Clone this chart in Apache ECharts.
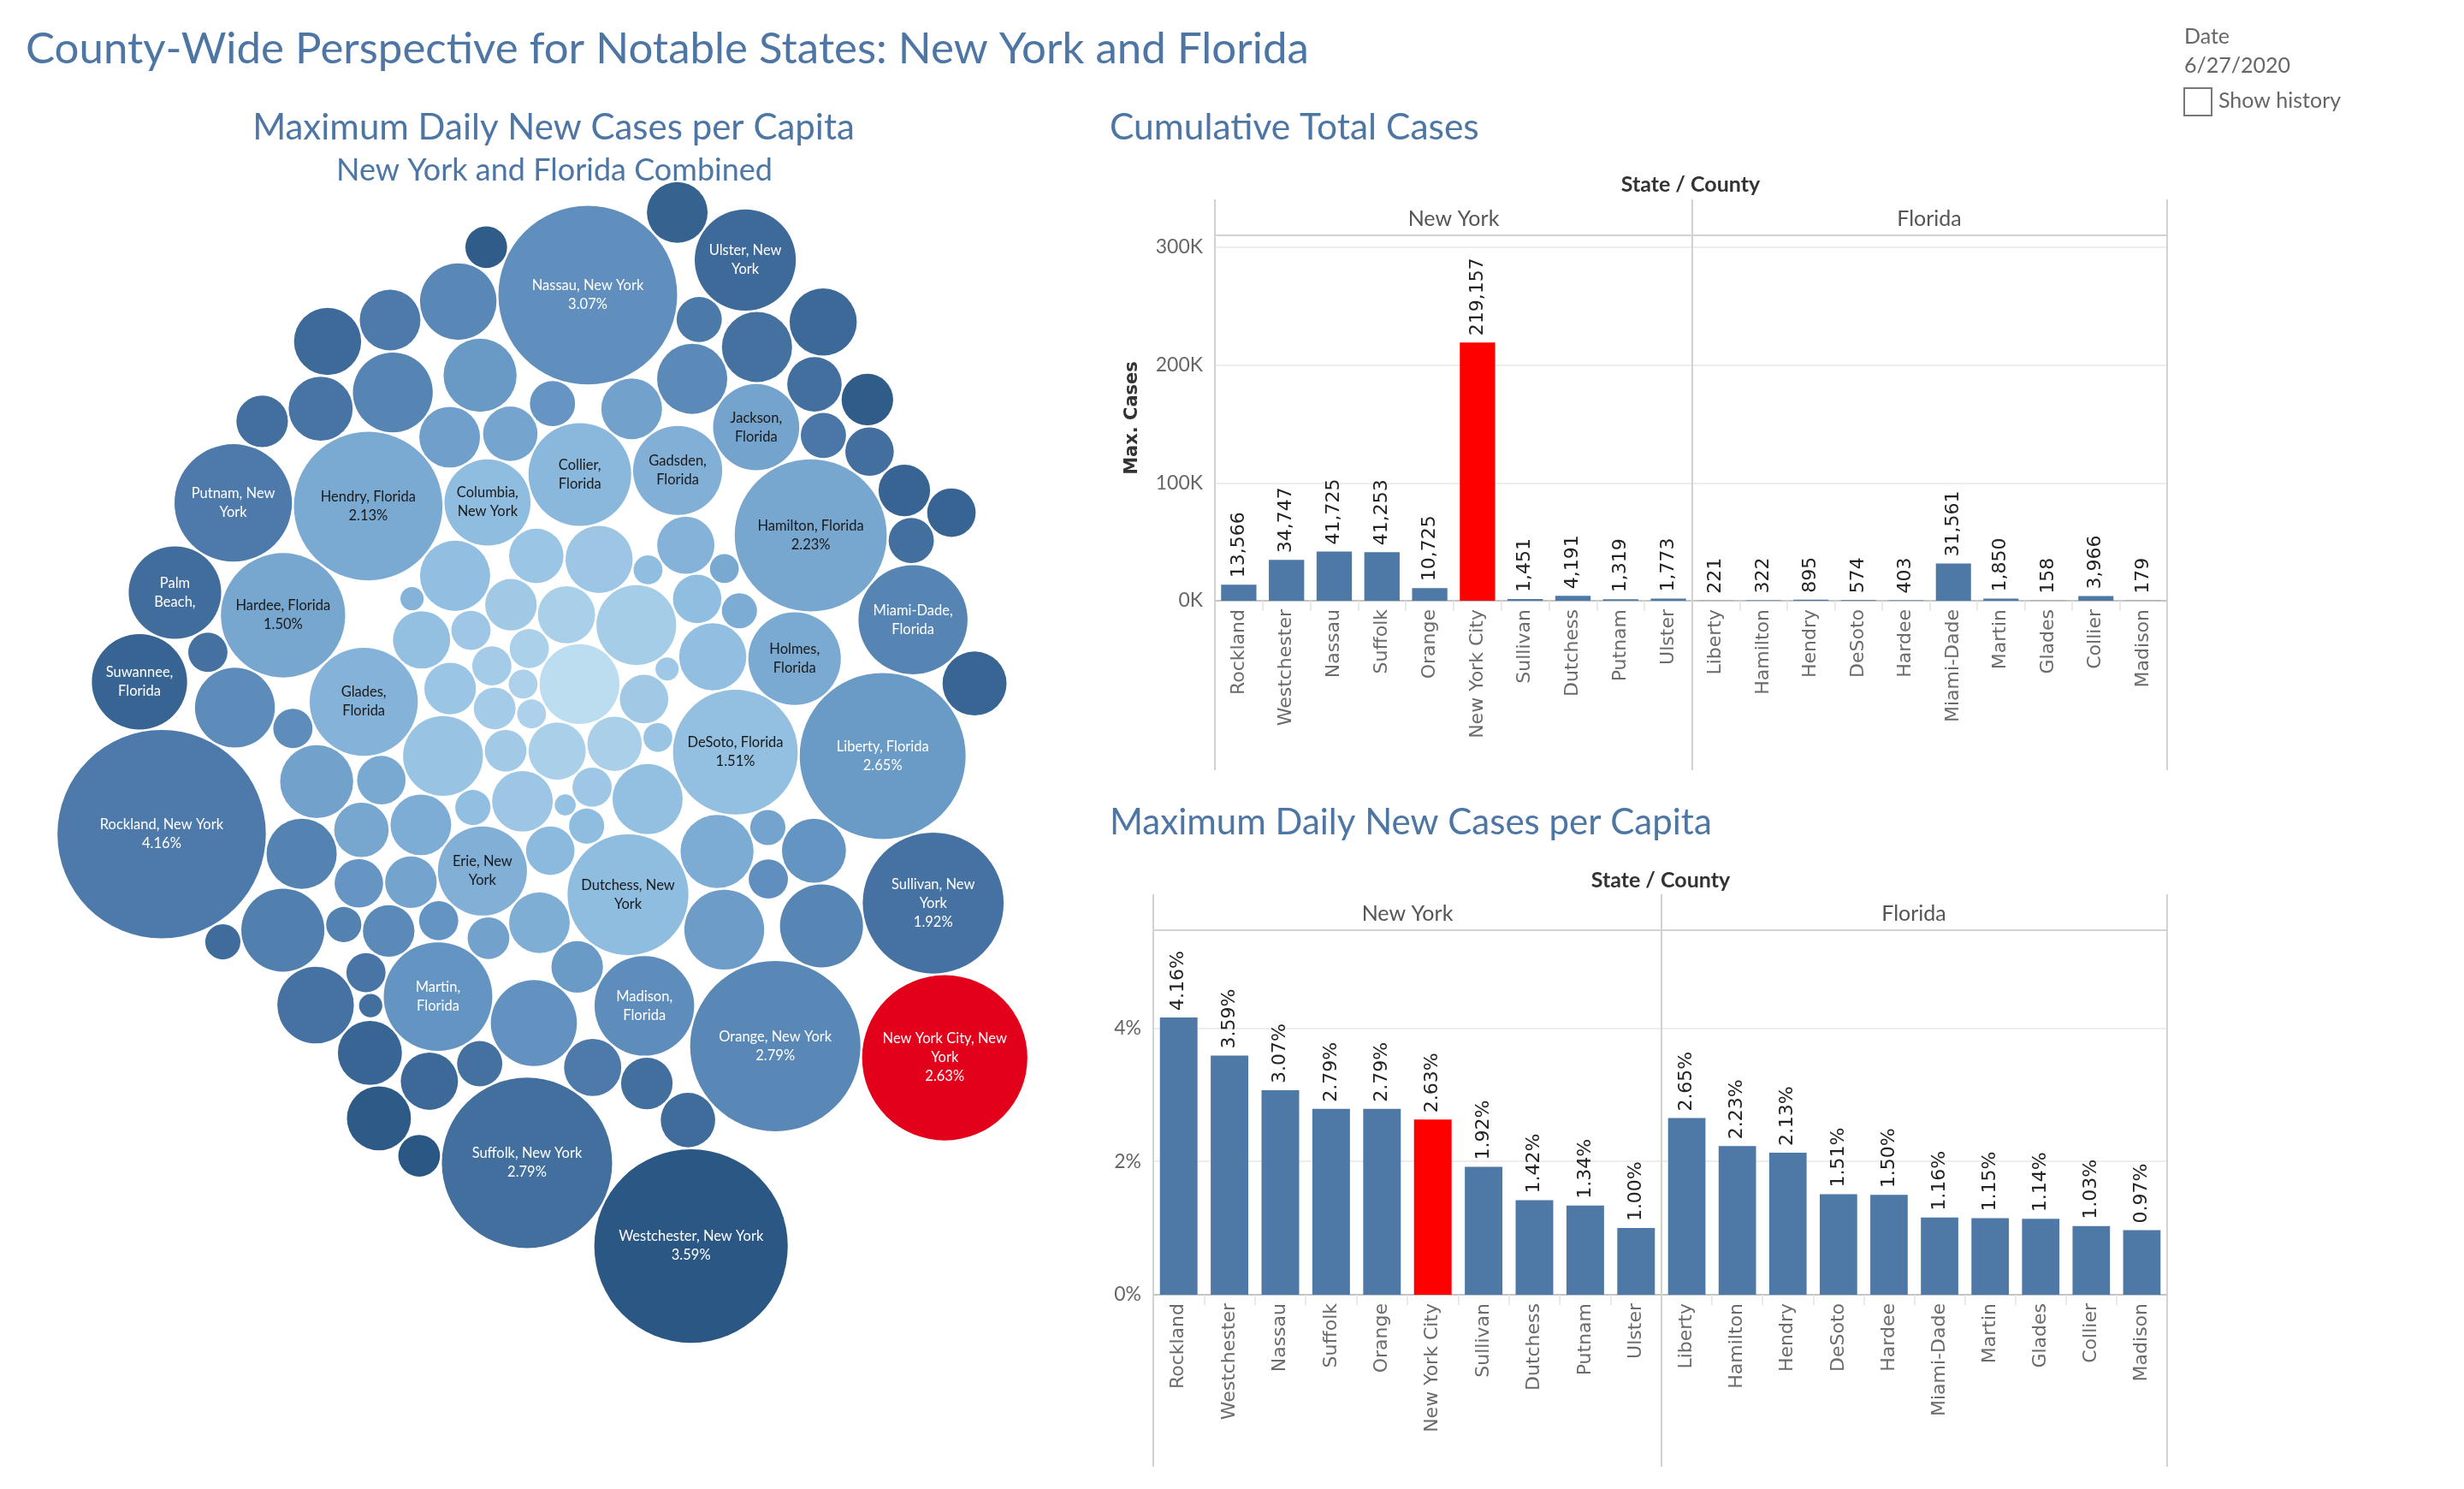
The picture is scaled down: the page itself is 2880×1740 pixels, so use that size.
<!DOCTYPE html>
<html><head><meta charset="utf-8">
<script src="https://cdn.jsdelivr.net/npm/echarts@6/dist/echarts.min.js"></script>
<style>html,body{margin:0;padding:0;background:#fff}#c{width:2880px;height:1740px}</style>
</head><body><div id="c"></div>
<script>
// ---------------- DATA ----------------
const nyCounties = ['Rockland','Westchester','Nassau','Suffolk','Orange','New York City','Sullivan','Dutchess','Putnam','Ulster'];
const flCounties = ['Liberty','Hamilton','Hendry','DeSoto','Hardee','Miami-Dade','Martin','Glades','Collier','Madison'];
const nyMaxCases = [13566,34747,41725,41253,10725,219157,1451,4191,1319,1773];
const flMaxCases = [221,322,895,574,403,31561,1850,158,3966,179];
const nyMaxPerCapita = [4.16,3.59,3.07,2.79,2.79,2.63,1.92,1.42,1.34,1.00];
const flMaxPerCapita = [2.65,2.23,2.13,1.51,1.50,1.16,1.15,1.14,1.03,0.97];
const casesTickLabels = ['0K','100K','200K','300K'];
const pctTickLabels = ['0%','2%','4%'];

// bubble chart (one entry per county bubble, 10 per row):
// label text ('' = unlabeled bubble)
const bubbleLabels = [
 '', 'Ulster, New\nYork', '', '', '', '', 'Putnam, New\nYork', 'Orange, New York', '', '',
 '', '', 'Suwannee,\nFlorida', '', '', '', '', '', 'Jackson,\nFlorida', 'Hardee, Florida',
 '', '', '', '', 'Nassau, New York', '', '', '', '', 'Gadsden,\nFlorida',
 '', '', '', 'Columbia,\nNew York', '', '', '', '', '', '',
 '', '', '', '', '', '', '', '', '', 'Martin,\nFlorida',
 '', '', '', 'DeSoto, Florida', '', '', '', '', '', '',
 '', '', '', '', '', '', '', '', '', '',
 '', '', 'Hamilton, Florida', 'Collier,\nFlorida', '', '', '', '', '', '',
 '', '', '', '', 'Erie, New\nYork', '', '', 'Holmes,\nFlorida', 'Madison,\nFlorida', 'Miami-Dade,\nFlorida',
 '', '', '', '', '', 'Palm\nBeach,', '', '', '', 'Rockland, New York',
 'Hendry, Florida', '', '', '', '', '', 'Glades,\nFlorida', 'Sullivan, New\nYork', 'Dutchess, New\nYork', '',
 '', '', '', 'Suffolk, New York', '', '', '', '', 'Liberty, Florida', 'Westchester, New York',
 '', '', 'New York City, New\nYork', ''
];
// maximum daily new cases per capita (%)
const bubbleValues = [
 0.37,1.00,0.49,0.27,0.16,0.18,1.34,2.79,0.06,0.63,
 0.58,0.68,0.89,0.37,0.21,0.63,0.16,0.24,0.73,1.50,
 0.21,0.49,0.30,0.41,3.07,0.30,0.27,0.33,0.13,0.78,
 0.41,0.16,0.16,0.73,0.53,0.24,0.05,0.06,0.37,0.49,
 0.63,0.41,0.21,0.27,0.16,0.27,0.13,0.33,0.45,1.15,
 0.33,0.41,0.49,1.51,0.24,0.33,0.16,0.18,0.45,0.24,
 0.21,0.30,0.33,0.63,0.30,0.06,0.45,0.53,0.41,0.27,
 0.27,0.58,2.23,1.03,0.16,0.18,0.09,0.09,0.63,0.13,
 0.63,0.13,0.37,0.49,0.78,0.18,0.37,0.84,0.97,1.16,
 0.21,0.45,0.13,0.27,0.30,0.84,0.13,0.30,0.24,4.16,
 2.13,0.09,0.37,0.16,0.16,0.53,1.14,1.92,1.42,0.27,
 0.27,0.24,0.73,2.79,0.09,0.37,0.68,0.33,2.65,3.59,
 0.24,0.18,2.63,0.09
];
// colour measure (0 = lightest ... 100 = darkest)
const bubbleColorMeasure = [
 93,88,84,85,81,97,78,70,85,72,
 70,71,92,78,61,57,62,61,52,50,
 84,73,51,91,65,50,52,78,52,44,
 98,65,84,35,53,34,30,42,46,32,
 67,91,80,26,24,22,33,42,88,62,
 32,82,68,32,21,15,13,20,25,37,
 85,26,14,0,15,23,33,47,62,85,
 92,83,50,38,24,19,12,27,17,35,
 28,47,45,33,44,53,55,48,66,72,
 79,89,87,97,85,86,74,87,85,78,
 48,12,25,19,66,59,42,83,35,58,
 68,49,63,85,49,53,75,89,58,100,
 92,100,94,34
];

// ---------------- LAYOUT HELPERS ----------------
function packCircles(circles, ax) {
  function place(b, a, c) {
    var dx = b.x - a.x, dy = b.y - a.y, d2 = dx*dx + dy*dy, x, y, a2, b2;
    if (d2) {
      a2 = a.r + c.r; a2 *= a2; b2 = b.r + c.r; b2 *= b2;
      if (a2 > b2) {
        x = (d2 + b2 - a2) / (2*d2); y = Math.sqrt(Math.max(0, b2/d2 - x*x));
        c.x = b.x - x*dx - y*dy; c.y = b.y - x*dy + y*dx;
      } else {
        x = (d2 + a2 - b2) / (2*d2); y = Math.sqrt(Math.max(0, a2/d2 - x*x));
        c.x = a.x + x*dx - y*dy; c.y = a.y + x*dy + y*dx;
      }
    } else { c.x = a.x + c.r; c.y = a.y; }
  }
  function intersects(a, b) {
    var dr = a.r + b.r - 1e-6, dx = b.x - a.x, dy = b.y - a.y;
    return dr > 0 && dr*dr > dx*dx + dy*dy;
  }
  function score(node) {
    var a = node._, b = node.next._, ab = a.r + b.r,
        dx = (a.x*b.r + b.x*a.r)/ab, dy = (a.y*b.r + b.y*a.r)/ab;
    return dx*dx*ax*ax + dy*dy;
  }
  function Node(c) { this._ = c; this.next = null; this.previous = null; }
  var n = circles.length, a, b, c, aa, ca, i, j, k, sj, sk;
  if (!n) return;
  a = circles[0]; a.x = 0; a.y = 0; if (n < 2) return;
  b = circles[1]; a.x = -b.r; b.x = a.r; b.y = 0; if (n < 3) return;
  place(b, a, c = circles[2]);
  a = new Node(a); b = new Node(b); c = new Node(c);
  a.next = c.previous = b; b.next = a.previous = c; c.next = b.previous = a;
  pack: for (i = 3; i < n; ++i) {
    place(a._, b._, c = circles[i]); c = new Node(c);
    j = b.next; k = a.previous; sj = b._.r; sk = a._.r;
    do {
      if (sj <= sk) {
        if (intersects(j._, c._)) { b = j; a.next = b; b.previous = a; --i; continue pack; }
        sj += j._.r; j = j.next;
      } else {
        if (intersects(k._, c._)) { a = k; a.next = b; b.previous = a; --i; continue pack; }
        sk += k._.r; k = k.previous;
      }
    } while (j !== k.next);
    c.previous = a; c.next = b; a.next = b.previous = b = c;
    aa = score(a);
    while ((c = c.next) !== b) { if ((ca = score(c)) < aa) { a = c; aa = ca; } }
    b = a.next;
  }
}

const RADIUS_K = 60.3;          // px per sqrt(%)
const BUBBLE_CENTER = [634, 891];
const circles = bubbleValues.map((v, i) => ({ i, r: RADIUS_K * Math.sqrt(v), m: bubbleColorMeasure[i] }));
const ordered = circles.slice().sort((p, q) => p.m - q.m || p.i - q.i);
packCircles(ordered, 1.12);
circles.forEach(c => { c.x = -c.x; });   // mirror the layout horizontally
let minX = Infinity, maxX = -Infinity, minY = Infinity, maxY = -Infinity;
circles.forEach(c => { minX = Math.min(minX, c.x - c.r); maxX = Math.max(maxX, c.x + c.r); minY = Math.min(minY, c.y - c.r); maxY = Math.max(maxY, c.y + c.r); });
const offX = BUBBLE_CENTER[0] - (minX + maxX) / 2, offY = BUBBLE_CENTER[1] - (minY + maxY) / 2;
const bubbleData = circles.map(c => [c.x + offX, c.y + offY, c.r, c.i]);

// Tableau-like blue sequential palette
const stops = [[0,[188,220,239]],[0.35,[143,189,224]],[0.6,[103,151,196]],[0.8,[74,119,167]],[1,[43,87,132]]];
function blue(t) {
  t = Math.max(0, Math.min(1, t));
  for (let s = 1; s < stops.length; s++) {
    if (t <= stops[s][0]) {
      const f = (t - stops[s-1][0]) / (stops[s][0] - stops[s-1][0]);
      const c = stops[s-1][1].map((v, k) => Math.round(v + (stops[s][1][k] - v) * f));
      return 'rgb(' + c.join(',') + ')';
    }
  }
  return 'rgb(43,87,132)';
}

// ---------------- CHART ----------------
const chart = echarts.init(document.getElementById('c'), null, { renderer: 'canvas' });
const BAR = '#4e79a7', HIGHLIGHT = '#ff0000';
const G = [];
function txt(x, y, text, size, fill, opts) {
  opts = opts || {};
  G.push({ type: 'text', x, y, silent: true, z: 10, style: {
    text, fill, fontSize: size, fontFamily: opts.family || 'Lato', fontWeight: opts.weight || 'normal',
    align: opts.align || 'left', verticalAlign: 'middle', textAlign: opts.align || 'left', textVerticalAlign: 'middle' } });
}
function line(x1, y1, x2, y2, color, w) {
  G.push({ type: 'line', silent: true, z: 1, shape: { x1, y1, x2, y2 }, style: { stroke: color || '#d2d2d2', lineWidth: w || 2 } });
}
const TITLE = '#4e76a5';
txt(30, 58, 'County-Wide Perspective for Notable States: New York and Florida', 51, TITLE);
txt(647, 149, 'Maximum Daily New Cases per Capita', 42, TITLE, { align: 'center' });
txt(648, 199, 'New York and Florida Combined', 36, TITLE, { align: 'center' });
txt(1297, 149, 'Cumulative Total Cases', 42.5, TITLE);
txt(1297, 961, 'Maximum Daily New Cases per Capita', 42, TITLE);
txt(2553, 43, 'Date', 25, '#666');
txt(2553, 77, '6/27/2020', 25, '#666');
G.push({ type: 'rect', silent: true, shape: { x: 2553, y: 103, width: 32, height: 32 }, style: { fill: '#fff', stroke: '#777', lineWidth: 2 } });
txt(2593, 118, 'Show history', 25, '#666');

// top panel frame
txt(1976, 216, 'State / County', 25, '#333', { align: 'center', weight: 'bold' });
line(1420, 233, 1420, 900); line(1978, 233, 1978, 900); line(2533, 233, 2533, 900);
line(1420, 275, 2533, 275);
txt(1699, 256, 'New York', 25, '#555', { align: 'center' });
txt(2255, 256, 'Florida', 25, '#555', { align: 'center' });
// bottom panel frame
txt(1941, 1029, 'State / County', 25, '#333', { align: 'center', weight: 'bold' });
line(1348, 1045, 1348, 1714); line(1942, 1045, 1942, 1714); line(2533, 1045, 2533, 1714);
line(1348, 1087, 2533, 1087);
txt(1645, 1068, 'New York', 25, '#555', { align: 'center' });
txt(2237, 1068, 'Florida', 25, '#555', { align: 'center' });

const CAT_LABEL = { rotate: 90, fontSize: 22, fontFamily: 'DejaVu Sans', color: '#6b6b6b', margin: 10, interval: 0 };
function catAxis(gi, cats) {
  return { type: 'category', gridIndex: gi, data: cats, axisLabel: CAT_LABEL,
    axisLine: { show: true, lineStyle: { color: '#c4c4c4', width: 2 } },
    axisTick: { show: true, length: 12, interval: 0, lineStyle: { color: '#e2e2e2', width: 1.5 } } };
}
const casesFmt = v => { const i = [0,100000,200000,300000].indexOf(v); return i >= 0 ? casesTickLabels[i] : ''; };
const pctFmt = v => { const i = [0,2,4].findIndex(t => Math.abs(t - v) < 1e-6); return i >= 0 ? pctTickLabels[i] : ''; };
function valAxis(gi, max, interval, fmt, showLabel, name) {
  const ax = { type: 'value', gridIndex: gi, min: 0, max, interval,
    axisLine: { show: false }, axisTick: { show: false },
    axisLabel: { show: showLabel, formatter: fmt, fontSize: 23, fontFamily: 'Lato', color: '#666', margin: 14 },
    splitLine: { show: true, lineStyle: { color: '#ededed', width: 2 } } };
  if (name) Object.assign(ax, { name, nameLocation: 'middle', nameGap: 86, nameRotate: 90,
    nameTextStyle: { fontSize: 21, fontWeight: 'bold', fontFamily: 'DejaVu Sans', color: '#333' } });
  return ax;
}
function barSeries(gi, cats, vals, fmt) {
  return { type: 'bar', xAxisIndex: gi, yAxisIndex: gi, barCategoryGap: '26%',
    data: vals.map((v, k) => ({ value: v, itemStyle: { color: cats[k] === 'New York City' ? HIGHLIGHT : BAR } })),
    label: { show: true, position: 'top', rotate: 90, align: 'left', verticalAlign: 'middle', distance: 8,
      fontSize: 22, fontFamily: 'DejaVu Sans', color: '#222', formatter: p => fmt(p.value) },
    silent: true, animation: false };
}
const numFmt = v => v.toLocaleString('en-US');
const pFmt = v => v.toFixed(2) + '%';

const option = {
  backgroundColor: '#ffffff',
  animation: false,
  graphic: G,
  grid: [
    { left: 1420, top: 275, width: 558, height: 427 },
    { left: 1978, top: 275, width: 555, height: 427 },
    { left: 1348, top: 1087, width: 594, height: 426 },
    { left: 1942, top: 1087, width: 591, height: 426 },
    { left: 0, top: 0, width: 2880, height: 1740 }
  ],
  xAxis: [
    catAxis(0, nyCounties), catAxis(1, flCounties), catAxis(2, nyCounties), catAxis(3, flCounties),
    { type: 'value', gridIndex: 4, min: 0, max: 2880, show: false }
  ],
  yAxis: [
    valAxis(0, 310000, 100000, casesFmt, true, 'Max. Cases'),
    valAxis(1, 310000, 100000, casesFmt, false),
    valAxis(2, 5.47, 2, pctFmt, true),
    valAxis(3, 5.47, 2, pctFmt, false),
    { type: 'value', gridIndex: 4, min: 0, max: 1740, inverse: true, show: false }
  ],
  series: [
    barSeries(0, nyCounties, nyMaxCases, numFmt),
    barSeries(1, flCounties, flMaxCases, numFmt),
    barSeries(2, nyCounties, nyMaxPerCapita, pFmt),
    barSeries(3, flCounties, flMaxPerCapita, pFmt),
    {
      type: 'custom', xAxisIndex: 4, yAxisIndex: 4, clip: false, silent: true, animation: false,
      data: bubbleData,
      renderItem: function (params, api) {
        const p = api.coord([api.value(0), api.value(1)]);
        const r = api.size([api.value(2), 0])[0];
        const i = api.value(3);
        const label = bubbleLabels[i] || '';
        const isNYC = label.indexOf('New York City') === 0;
        const m = bubbleColorMeasure[i];
        const fill = isNYC ? '#e3001b' : blue(m / 100);
        const children = [{ type: 'circle', shape: { cx: p[0], cy: p[1], r: Math.max(0.5, r - 1.2) }, style: { fill } }];
        if (label) {
          let text = label;
          if (bubbleValues[i] >= 1.45) text += '\n' + bubbleValues[i].toFixed(2) + '%';
          const white = isNYC || m >= 57;
          children.push({ type: 'text', x: p[0], y: p[1], style: {
            text, fill: white ? '#ffffff' : '#1a1a1a', fontSize: 16.5, fontFamily: 'Lato', lineHeight: 22,
            align: 'center', verticalAlign: 'middle', textAlign: 'center', textVerticalAlign: 'middle' } });
        }
        return { type: 'group', children };
      }
    }
  ]
};
chart.setOption(option);
</script>
</body></html>
